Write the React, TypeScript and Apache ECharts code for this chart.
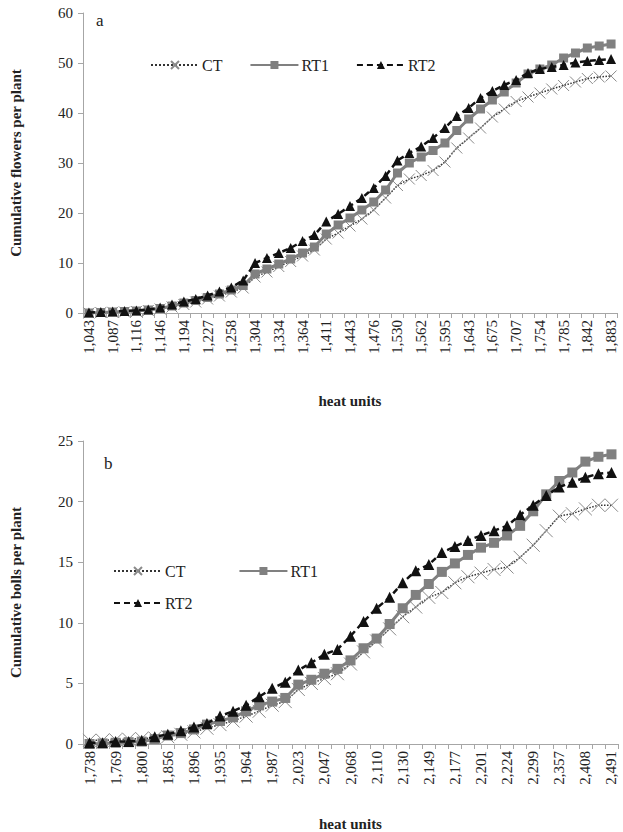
import React, { useEffect, useRef } from "react";
import * as echarts from "echarts";

const topCategories = ["1,043","1,065","1,087","1,101","1,116","1,131","1,146","1,170","1,194","1,210","1,227","1,242","1,258","1,281","1,304","1,319","1,334","1,349","1,364","1,388","1,411","1,427","1,443","1,460","1,476","1,503","1,530","1,546","1,562","1,578","1,595","1,619","1,643","1,659","1,675","1,691","1,707","1,730","1,754","1,770","1,785","1,814","1,842","1,862","1,883"];
const flowersCT = [0.0,0.1,0.15,0.2,0.3,0.5,0.8,1.2,1.7,2.2, 2.8,3.4,4.2,5.0,7.2,8.2,9.3,10.3,11.4,12.6, 14.8,16.0,17.4,18.8,20.6,23.0,25.5,26.8,27.5,28.5, 30.2,33.0,35.0,37.0,39.2,40.8,42.3,43.2,44.0,44.8, 45.5,46.2,46.9,47.2,47.4];
const flowersRT1 = [0.0,0.1,0.2,0.3,0.4,0.6,0.9,1.4,2.0,2.5, 3.1,3.8,4.6,5.5,7.8,8.8,9.8,10.8,12.0,13.2, 15.8,17.6,19.0,20.6,22.2,24.6,28.0,30.0,31.2,32.5, 34.0,36.5,38.8,40.8,42.6,44.2,46.0,47.8,48.8,49.6, 51.0,52.0,53.0,53.4,53.8];
const flowersRT2 = [0.1,0.2,0.3,0.4,0.5,0.7,1.1,1.7,2.3,2.8, 3.5,4.3,5.1,6.5,10.0,11.0,12.0,13.0,14.4,15.6, 18.3,19.8,21.4,23.0,25.0,27.4,30.5,32.0,33.3,35.0, 37.0,39.4,41.0,43.0,44.4,45.6,46.6,48.0,48.8,49.2, 49.6,50.1,50.4,50.6,50.8];

const bottomCategories = ["1,738","1,753","1,769","1,784","1,800","1,828","1,856","1,876","1,896","1,915","1,935","1,950","1,964","1,975","1,987","2,005","2,023","2,035","2,047","2,057","2,068","2,089","2,110","2,120","2,130","2,140","2,149","2,163","2,177","2,189","2,201","2,212","2,224","2,262","2,299","2,328","2,357","2,382","2,408","2,450","2,491"];
const bollsCT = [0.3,0.3,0.35,0.4,0.45,0.5,0.6,0.8,1.0,1.3, 1.6,1.9,2.3,2.7,3.2,3.5,4.5,5.0,5.4,5.8, 6.6,7.6,8.5,9.5,10.5,11.3,12.1,12.5,13.3,13.8, 14.1,14.4,14.6,15.4,16.4,17.6,18.8,19.0,19.4,19.7, 19.7];
const bollsRT1 = [0.0,0.05,0.1,0.15,0.2,0.4,0.7,0.9,1.2,1.6, 1.9,2.2,2.7,3.2,3.5,3.8,4.9,5.3,5.8,6.2, 6.9,7.9,8.7,9.9,11.2,12.3,13.2,14.2,14.9,15.6, 16.2,16.6,17.2,18.0,19.2,20.6,21.7,22.4,23.3,23.7, 23.9];
const bollsRT2 = [0.1,0.1,0.2,0.2,0.3,0.6,0.8,1.1,1.4,1.7, 2.3,2.7,3.2,3.9,4.6,5.1,6.1,6.7,7.4,7.8, 8.9,10.1,11.2,12.1,13.3,14.3,14.8,15.8,16.3,16.8, 17.2,17.6,18.0,18.9,19.7,20.5,21.2,21.6,22.0,22.3, 22.4];

const FONT = "'Liberation Serif', 'Times New Roman', 'DejaVu Serif', serif";
const AXIS_COLOR = "#a6a6a6";
const TEXT_COLOR = "#222";

const X_SYMBOL = "path://M0,0L10,10M10,0L0,10";

function makeSeries(name: string, data: number[], idx: number, big: boolean) {
  if (name === "CT") {
    return {
      name, type: "line", data, xAxisIndex: idx, yAxisIndex: idx,
      symbol: X_SYMBOL, symbolSize: big ? 13 : 11, showAllSymbol: true,
      lineStyle: { color: "#333", width: 1.5, type: "dotted" },
      itemStyle: { color: "rgba(0,0,0,0)", borderColor: "#8a8a8a", borderWidth: 1 },
      z: 2,
    };
  }
  if (name === "RT1") {
    return {
      name, type: "line", data, xAxisIndex: idx, yAxisIndex: idx,
      symbol: "rect", symbolSize: big ? 10 : 9, showAllSymbol: true,
      lineStyle: { color: "#808080", width: 3, type: "solid" },
      itemStyle: { color: "#808080", borderWidth: 0 },
      z: 3,
    };
  }
  return {
    name, type: "line", data, xAxisIndex: idx, yAxisIndex: idx,
    symbol: "triangle", symbolSize: big ? 11 : 10, showAllSymbol: true,
    lineStyle: { color: "#111", width: 2.5, type: [6, 4] },
    itemStyle: { color: "#111", borderWidth: 0 },
    z: 4,
  };
}

function xAxisCfg(cats: string[], idx: number, nameGap: number) {
  return {
    type: "category", gridIndex: idx, data: cats, boundaryGap: true,
    name: "heat units", nameLocation: "middle", nameGap,
    nameTextStyle: { fontFamily: FONT, fontWeight: "bold", fontSize: 15, color: TEXT_COLOR },
    axisLine: { lineStyle: { color: AXIS_COLOR, width: 1 } },
    axisTick: { show: true, interval: 0, length: 5, lineStyle: { color: AXIS_COLOR } },
    axisLabel: { interval: 1, rotate: 90, fontFamily: FONT, fontSize: 15, color: TEXT_COLOR, margin: 7 },
    splitLine: { show: false },
  };
}

function yAxisCfg(idx: number, max: number, interval: number, name: string) {
  return {
    type: "value", gridIndex: idx, min: 0, max, interval,
    name, nameLocation: "middle", nameGap: 60, nameRotate: 90,
    nameTextStyle: { fontFamily: FONT, fontWeight: "bold", fontSize: 15, color: TEXT_COLOR },
    axisLine: { show: true, lineStyle: { color: AXIS_COLOR, width: 1 } },
    axisTick: { show: true, length: 5, lineStyle: { color: AXIS_COLOR } },
    axisLabel: { fontFamily: FONT, fontSize: 15, color: TEXT_COLOR, margin: 10 },
    splitLine: { show: false },
  };
}

const legendBase = {
  orient: "horizontal",
  itemWidth: 48,
  itemHeight: 10,
  itemGap: 27,
  selectedMode: false,
  textStyle: { fontFamily: FONT, fontSize: 16, color: TEXT_COLOR, padding: [0, 0, 0, -2] },
};

export default function App() {
  const ref = useRef<HTMLDivElement>(null);
  useEffect(() => {
    if (!ref.current) return;
    const chart = echarts.init(ref.current, null, { renderer: "svg" });
    chart.setOption({
      animation: false,
      backgroundColor: "#fff",
      textStyle: { fontFamily: FONT },
      grid: [
        { left: 77, top: 13, width: 540, height: 300 },
        { left: 77, top: 441, width: 541, height: 309 },
      ],
      xAxis: [xAxisCfg(topCategories, 0, 80), xAxisCfg(bottomCategories, 1, 72)],
      yAxis: [
        yAxisCfg(0, 60, 10, "Cumulative flowers per plant"),
        yAxisCfg(1, 25, 5, "Cumulative bolls per plant"),
      ],
      legend: [
        { ...legendBase, left: 145, top: 52, data: ["CT", "RT1", "RT2"] },
        { ...legendBase, left: 108, top: 558, itemGap: 53, data: ["CT", "RT1"] },
        { ...legendBase, left: 108, top: 590, data: ["RT2"] },
      ],
      graphic: [
        { type: "text", left: 96, top: 12, style: { text: "a", fontFamily: FONT, fontSize: 17, fill: TEXT_COLOR } },
        { type: "text", left: 104, top: 455, style: { text: "b", fontFamily: FONT, fontSize: 17, fill: TEXT_COLOR } },
      ],
      series: [
        makeSeries("CT", flowersCT, 0, false),
        makeSeries("RT1", flowersRT1, 0, false),
        makeSeries("RT2", flowersRT2, 0, false),
        makeSeries("CT", bollsCT, 1, true),
        makeSeries("RT1", bollsRT1, 1, true),
        makeSeries("RT2", bollsRT2, 1, true),
      ],
    });
    return () => chart.dispose();
  }, []);
  return (
    <div
      ref={ref}
      style={{ position: "fixed", left: 0, top: 0, width: 623, height: 832, background: "#fff" }}
    />
  );
}
